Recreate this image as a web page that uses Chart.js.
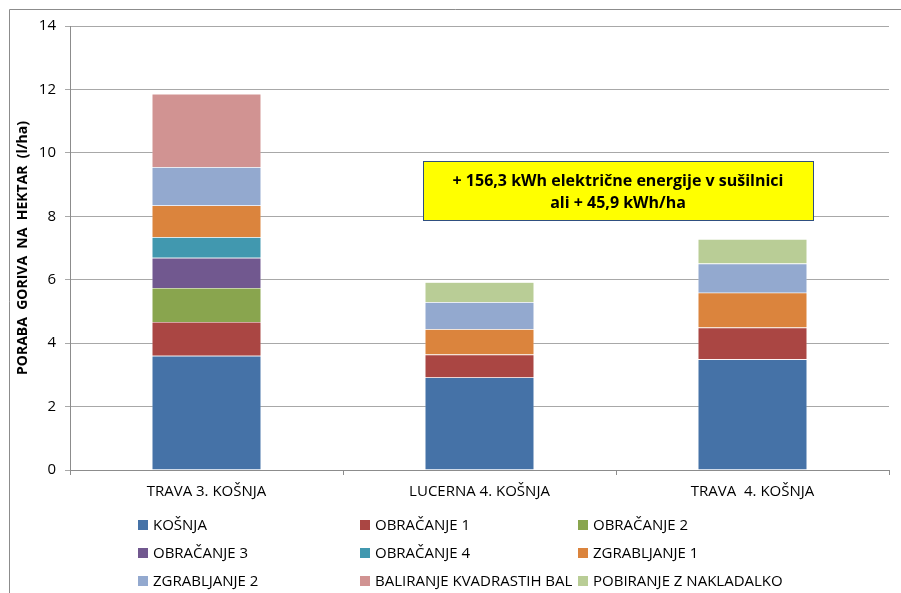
<!DOCTYPE html>
<html>
<head>
<meta charset="utf-8">
<script src="https://cdn.jsdelivr.net/npm/chart.js@4.4.0/dist/chart.umd.min.js"></script>
<style>
    html, body { margin: 0; padding: 0; background: #fff; }
    #wrap { width: 901px; height: 593px; position: relative; }
</style>
</head>
<body>
<div id="wrap"><canvas id="fuel-canvas" width="901" height="593"></canvas></div>
<script>
// data
const categories = ['TRAVA 3. KOŠNJA', 'LUCERNA 4. KOŠNJA', 'TRAVA  4. KOŠNJA'];
const series_names = ['KOŠNJA', 'OBRAČANJE 1', 'OBRAČANJE 2', 'OBRAČANJE 3', 'OBRAČANJE 4',
    'ZGRABLJANJE 1', 'ZGRABLJANJE 2', 'BALIRANJE KVADRASTIH BAL', 'POBIRANJE Z NAKLADALKO'];
const kosnja      = [3.60, 2.92, 3.49];
const obracanje1  = [1.07, 0.72, 1.00];
const obracanje2  = [1.07, null, null];
const obracanje3  = [0.95, null, null];
const obracanje4  = [0.65, null, null];
const zgrablj1    = [1.00, 0.80, 1.10];
const zgrablj2    = [1.21, 0.85, 0.92];
const baliranje   = [2.31, null, null];
const pobiranje   = [null, 0.63, 0.77];
const y_ticks     = [0, 2, 4, 6, 8, 10, 12, 14];
const note_lines  = ['+ 156,3 kWh električne energije v sušilnici', 'ali + 45,9 kWh/ha'];

const colors = ['#4572a7', '#aa4643', '#89a54e', '#71588f', '#4198af',
    '#db843d', '#93a9cf', '#d19392', '#b9cd96'];
const values = [kosnja, obracanje1, obracanje2, obracanje3, obracanje4,
    zgrablj1, zgrablj2, baliranje, pobiranje];

const FONT = "'Open Sans', 'Noto Sans', sans-serif";

const datasets = series_names.map(function (name, i) {
    return {
        label: name,
        data: values[i],
        backgroundColor: colors[i],
        borderColor: 'rgba(255,255,255,0.35)',
        borderWidth: 0.6
    };
});

// frame, note box and the three-column legend
const extrasPlugin = {
    id: 'extras',
    beforeDraw: function (chart) {
        const ctx = chart.ctx;
        ctx.save();
        ctx.fillStyle = '#fff';
        ctx.fillRect(0, 0, chart.width, chart.height);
        ctx.strokeStyle = '#8c8c8c';
        ctx.lineWidth = 1;
        ctx.beginPath();
        ctx.moveTo(9.5, chart.height);
        ctx.lineTo(9.5, 9.5);
        ctx.lineTo(chart.width, 9.5);
        ctx.stroke();
        ctx.restore();
    },
    afterDraw: function (chart) {
        const ctx = chart.ctx;
        ctx.save();

        // note box
        ctx.fillStyle = '#ffff00';
        ctx.fillRect(423, 161, 391, 60);
        ctx.strokeStyle = '#2f4f7f';
        ctx.lineWidth = 1;
        ctx.strokeRect(423.5, 161.5, 390, 59);
        ctx.fillStyle = '#000';
        ctx.font = 'bold 16px ' + FONT;
        ctx.textAlign = 'center';
        ctx.textBaseline = 'middle';
        ctx.fillText(note_lines[0], 618, 181);
        ctx.fillText(note_lines[1], 618, 203);

        // legend
        const colX = [138, 360, 578];
        const rowY = [525, 553, 581];
        ctx.font = '15px ' + FONT;
        ctx.textAlign = 'left';
        chart.data.datasets.forEach(function (ds, i) {
            const x = colX[i % 3];
            const y = rowY[Math.floor(i / 3)];
            ctx.fillStyle = ds.backgroundColor;
            ctx.fillRect(x, y - 5, 10, 10);
            ctx.fillStyle = '#000';
            ctx.fillText(ds.label, x + 15, y + 1);
        });
        ctx.restore();
    }
};

new Chart(document.getElementById('fuel-canvas').getContext('2d'), {
    type: 'bar',
    data: { labels: categories, datasets: datasets },
    options: {
        responsive: false,
        animation: false,
        layout: { padding: { top: 26, right: 12, bottom: 90, left: 0 } },
        datasets: { bar: { categoryPercentage: 1, barPercentage: 0.4 } },
        scales: {
            x: {
                stacked: true,
                afterFit: function (scale) { scale.height = 33; },
                grid: {
                    offset: true,
                    drawOnChartArea: false,
                    tickLength: 5,
                    color: '#8c8c8c'
                },
                border: { color: '#8c8c8c' },
                ticks: {
                    color: '#000',
                    padding: 8,
                    font: { family: FONT, size: 15 }
                }
            },
            y: {
                stacked: true,
                min: 0,
                max: 14,
                afterBuildTicks: function (scale) {
                    scale.ticks = y_ticks.map(function (v) { return { value: v }; });
                },
                afterFit: function (scale) { scale.width = 70; },
                grid: { color: '#a8a8a8', tickLength: 5 },
                border: { color: '#8c8c8c' },
                ticks: {
                    color: '#000',
                    padding: 9,
                    font: { family: FONT, size: 15 }
                },
                title: {
                    display: true,
                    text: 'PORABA  GORIVA  NA  HEKTAR  (l/ha)',
                    color: '#000',
                    padding: { top: 15 },
                    font: { family: FONT, size: 14, weight: 'bold' }
                }
            }
        },
        plugins: {
            legend: { display: false },
            tooltip: { enabled: false }
        }
    },
    plugins: [extrasPlugin]
});
</script>
</body>
</html>
